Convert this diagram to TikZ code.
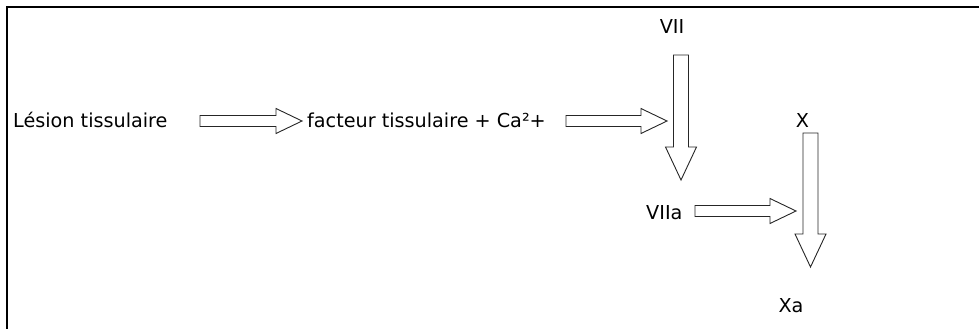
\documentclass[tikz,border=0pt]{standalone}
\usepackage{fontspec}
\setmainfont{DejaVu Sans}
\usetikzlibrary{calc}

\begin{document}
\begin{tikzpicture}[x=1pt,y=-1pt,
  lbl/.style={inner sep=0pt, font=\fontsize{19.2}{23}\selectfont, text=black},
  arrowbox/.style={draw=black!85, fill=white, line width=0.9pt, line join=miter},
  % right-pointing block arrow from start to tip
  hblock/.style={to path={let \p1=(\tikztostart), \p2=(\tikztotarget) in
    (\x1,\y1+5.5pt) -- (\x2-26pt,\y1+5.5pt) -- (\x2-26pt,\y1+12.5pt) -- (\x2,\y1)
    -- (\x2-26pt,\y1-12.5pt) -- (\x2-26pt,\y1-5.5pt) -- (\x1,\y1-5.5pt) -- cycle}},
  % downward block arrow from top to tip
  vblock/.style={to path={let \p1=(\tikztostart), \p2=(\tikztotarget) in
    (\x1-7.5pt,\y1) -- (\x1-7.5pt,\y2+33pt) -- (\x1-15.5pt,\y2+33pt) -- (\x1,\y2)
    -- (\x1+15.5pt,\y2+33pt) -- (\x1+7.5pt,\y2+33pt) -- (\x1+7.5pt,\y1) -- cycle}}
]
\useasboundingbox (0,0) rectangle (979,329);

% open frame: top and left edges
\draw[line width=1.2pt] (7,329) -- (7,7) -- (979,7);

% labels
\node[lbl, anchor=base west] (lesion)  at (13,127)  {Lésion tissulaire};
\node[lbl, anchor=base west] (facteur) at (307,127) {facteur tissulaire + Ca²+};
\node[lbl, anchor=base]      (vii)     at (672,34)  {VII};
\node[lbl, anchor=base west] (viia)    at (646,219) {VIIa};
\node[lbl, anchor=base]      (x)       at (802.5,127) {X};
\node[lbl, anchor=base]      (xa)      at (791,312) {Xa};

% arrow ends
\coordinate (a1s) at (200,121);
\coordinate (a1e) at (302,121);
\coordinate (a2s) at (566,121);
\coordinate (a2e) at (667,121);
\coordinate (a3s) at (695,211);
\coordinate (a3e) at (796,211);
\coordinate (v1s) at (681,55);
\coordinate (v1e) at (681,180);
\coordinate (v2s) at (810.5,133);
\coordinate (v2e) at (810.5,267);

% block arrows
\draw[arrowbox] (a1s) to[hblock] (a1e);
\draw[arrowbox] (a2s) to[hblock] (a2e);
\draw[arrowbox] (v1s) to[vblock] (v1e);
\draw[arrowbox] (a3s) to[hblock] (a3e);
\draw[arrowbox] (v2s) to[vblock] (v2e);
\end{tikzpicture}
\end{document}
